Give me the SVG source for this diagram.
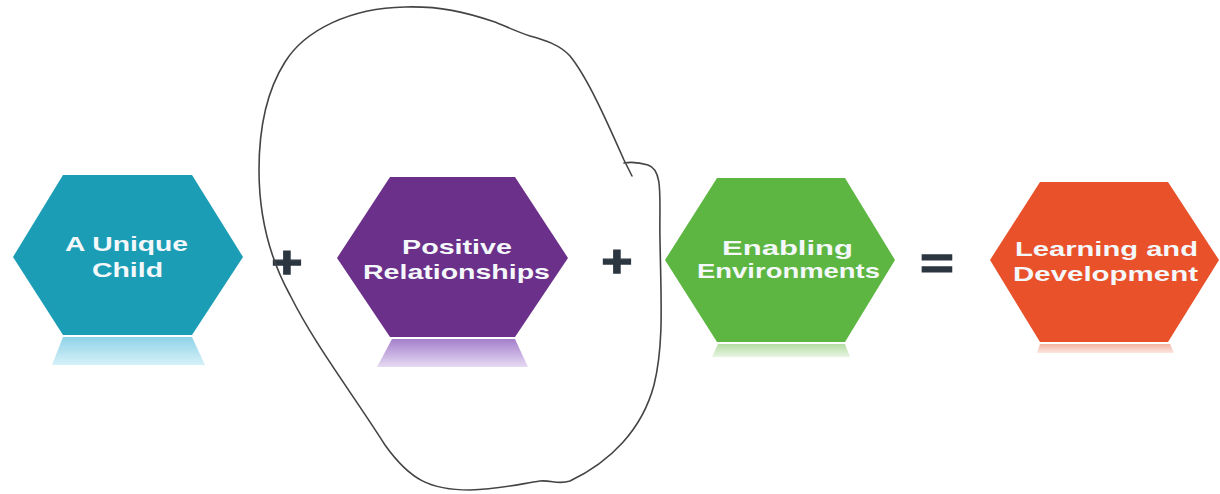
<svg xmlns="http://www.w3.org/2000/svg" width="1220" height="494" viewBox="0 0 1220 494">
<style>
.lbl{font-family:"Liberation Sans",Arial,sans-serif;font-weight:bold;font-size:21px;fill:#f4f8fb}
.op{font-family:"Liberation Sans",Arial,sans-serif;font-weight:bold;font-size:44px;fill:#2b3640;stroke:#2b3640;stroke-width:1.5}
.sketch{fill:none;stroke:#444;stroke-width:1.6;stroke-linecap:round;stroke-linejoin:round}
</style>
<defs>
<linearGradient id="gC" x1="0" y1="0" x2="0" y2="1"><stop offset="0" stop-color="#8fd3e8"/><stop offset="1" stop-color="#d6f1f8"/></linearGradient>
<linearGradient id="gP" x1="0" y1="0" x2="0" y2="1"><stop offset="0" stop-color="#a47fcb"/><stop offset="1" stop-color="#e6daf3"/></linearGradient>
<linearGradient id="gG" x1="0" y1="0" x2="0" y2="1"><stop offset="0" stop-color="#b3dca3"/><stop offset="1" stop-color="#e9f5e3"/></linearGradient>
<linearGradient id="gO" x1="0" y1="0" x2="0" y2="1"><stop offset="0" stop-color="#f3b4a2"/><stop offset="1" stop-color="#fbe6df"/></linearGradient>
</defs>
<rect width="1220" height="494" fill="#ffffff"/>
<g id="node-unique-child">
<polygon points="13,257 63,175 192,175 243,257 192,335 63,335" fill="#1c9db6"/>
<polygon points="63,337 192,337 205,365 52,365" fill="url(#gC)"/>
<text class="lbl" x="65" y="251" textLength="123" lengthAdjust="spacingAndGlyphs">A Unique</text>
<text class="lbl" x="92" y="277" textLength="71" lengthAdjust="spacingAndGlyphs">Child</text>
</g>
<g id="node-positive-relationships">
<polygon points="337,258 390,177 515,177 568,258 515,337 390,337" fill="#6b3089"/>
<polygon points="392,339 515,339 528,367 377,367" fill="url(#gP)"/>
<text class="lbl" x="402" y="254" textLength="110" lengthAdjust="spacingAndGlyphs">Positive</text>
<text class="lbl" x="363" y="279" textLength="187" lengthAdjust="spacingAndGlyphs">Relationships</text>
</g>
<g id="node-enabling-environments">
<polygon points="665,260 717,178 845,178 895,260 845,342 717,342" fill="#5db641"/>
<polygon points="718,344 845,344 850,357 712,357" fill="url(#gG)"/>
<text class="lbl" x="722" y="255" textLength="131" lengthAdjust="spacingAndGlyphs">Enabling</text>
<text class="lbl" x="697" y="278" textLength="183" lengthAdjust="spacingAndGlyphs">Environments</text>
</g>
<g id="node-learning-development">
<polygon points="990,260 1040,182 1168,182 1219,260 1168,342 1040,342" fill="#e9512b"/>
<polygon points="1040,344 1170,344 1174,353 1037,353" fill="url(#gO)"/>
<text class="lbl" x="1015" y="256" textLength="183" lengthAdjust="spacingAndGlyphs">Learning and</text>
<text class="lbl" x="1013" y="281" textLength="185" lengthAdjust="spacingAndGlyphs">Development</text>
</g>
<g id="connectors">
<text class="op" transform="translate(287,278) scale(1.2,1)" text-anchor="middle">+</text>
<text class="op" transform="translate(617,277) scale(1.2,1)" text-anchor="middle">+</text>
<text class="op" transform="translate(937,279) scale(1.3,1)" text-anchor="middle">=</text>
</g>
<g id="sketch">
<path class="sketch" d="M 632 176 L 624 160 C 608 124, 588 78, 570 56 C 560 45, 545 40, 530 36 C 515 31, 505 26, 495 22 C 465 12, 440 6, 405 7 C 350 8, 305 30, 285 62 C 266 92, 259 130, 259 170 C 259 215, 268 255, 290 295 C 315 345, 350 390, 385 445 C 410 480, 430 490, 470 490 C 500 489, 520 484, 540 481 C 552 480, 558 485, 570 481 C 610 462, 642 430, 654 385 C 664 345, 661 300, 660 240 C 659 200, 664 170, 648 165 C 638 162, 630 162, 624 163"/>
</g>
</svg>
